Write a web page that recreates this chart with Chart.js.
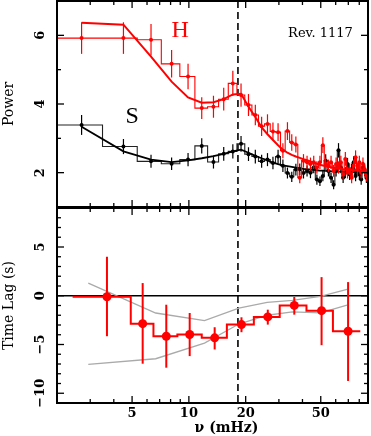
<!DOCTYPE html>
<html>
<head>
<meta charset="utf-8">
<script src="https://cdn.jsdelivr.net/npm/chart.js@4.4.1/dist/chart.umd.min.js"></script>
<style>
  html, body { margin: 0; padding: 0; background: #fff; }
  #wrap { position: relative; width: 371px; height: 436px; }
  canvas { position: absolute; left: 0; }
  #topChart { top: 0; }
  #lagChart { top: 200px; }
</style>
</head>
<body>
<div id="wrap">
  <canvas id="topChart" width="371" height="208"></canvas>
  <canvas id="lagChart" width="371" height="236"></canvas>
</div>
<script>
// --- data (frequencies in mHz) ---
const freq = [2.7, 4.5, 6.3, 8.1, 9.9, 11.7, 13.5, 15.3, 17.1, 18.9, 20.7, 22.5, 24.3, 26.1, 27.9, 29.7,
  31.5, 33.3, 35.1, 36.9, 38.7, 40.5, 42.3, 44.1, 45.9, 47.7, 49.5, 51.3, 53.1, 54.9, 56.7, 58.5,
  60.3, 62.1, 63.9, 65.7, 67.5, 69.3, 71.1, 72.9, 74.7, 76.5, 78.3, 80.1, 81.9, 83.7, 85.5, 87.3];

// hard band (H)
const powerH = [5.92, 5.92, 5.87, 5.17, 4.80, 3.88, 3.92, 4.14, 4.60, 4.26, 3.97, 3.68, 3.35, 3.42, 3.20, 3.18,
  2.64, 3.21, 2.88, 2.82, 1.85, 2.35, 2.30, 2.25, 2.30, 2.15, 2.30, 2.80, 2.25, 2.20, 2.30, 2.05,
  2.25, 2.15, 2.30, 1.95, 2.40, 2.00, 2.10, 1.85, 2.20, 2.45, 2.10, 2.30, 2.00, 2.25, 2.10, 1.90];
const errH = [0.46, 0.46, 0.46, 0.40, 0.37, 0.32, 0.32, 0.33, 0.37, 0.34, 0.32, 0.30, 0.28, 0.28, 0.26, 0.26,
  0.22, 0.26, 0.24, 0.23, 0.16, 0.19, 0.19, 0.19, 0.19, 0.18, 0.19, 0.23, 0.19, 0.18, 0.19, 0.17,
  0.19, 0.18, 0.19, 0.16, 0.20, 0.17, 0.17, 0.16, 0.18, 0.20, 0.17, 0.19, 0.17, 0.19, 0.17, 0.16];
const modelH = [6.37, 6.31, 5.38, 4.65, 4.19, 4.04, 4.05, 4.14, 4.28, 4.30, 3.92, 3.62, 3.32, 3.12, 2.95, 2.80,
  2.67, 2.58, 2.52, 2.47, 2.43, 2.39, 2.36, 2.33, 2.29, 2.26, 2.23, 2.21, 2.19, 2.17, 2.16, 2.14,
  2.13, 2.12, 2.11, 2.10, 2.09, 2.08, 2.08, 2.07, 2.07, 2.06, 2.06, 2.05, 2.05, 2.05, 2.04, 2.04];

// soft band (S)
const powerS = [3.39, 2.76, 2.33, 2.26, 2.38, 2.78, 2.31, 2.55, 2.62, 2.84, 2.54, 2.47, 2.33, 2.38, 2.28, 2.47,
  2.20, 1.99, 1.88, 2.09, 2.10, 1.99, 2.05, 2.00, 2.15, 1.80, 1.75, 1.90, 2.35, 2.05, 1.85, 1.65,
  2.05, 2.65, 2.15, 1.85, 2.00, 2.25, 1.95, 2.10, 2.30, 1.90, 2.10, 1.95, 1.80, 2.15, 2.05, 1.85];
const errS = [0.29, 0.22, 0.19, 0.18, 0.19, 0.22, 0.19, 0.20, 0.21, 0.23, 0.20, 0.20, 0.19, 0.19, 0.18, 0.20,
  0.18, 0.16, 0.15, 0.17, 0.17, 0.16, 0.16, 0.16, 0.17, 0.15, 0.14, 0.15, 0.19, 0.16, 0.15, 0.13,
  0.16, 0.21, 0.17, 0.15, 0.16, 0.18, 0.16, 0.17, 0.18, 0.15, 0.17, 0.16, 0.15, 0.17, 0.16, 0.15];
const modelS = [3.34, 2.62, 2.38, 2.31, 2.36, 2.42, 2.48, 2.55, 2.62, 2.67, 2.58, 2.49, 2.42, 2.36, 2.29, 2.25,
  2.21, 2.19, 2.17, 2.15, 2.13, 2.11, 2.10, 2.09, 2.08, 2.07, 2.06, 2.06, 2.05, 2.05, 2.04, 2.04,
  2.04, 2.03, 2.03, 2.03, 2.03, 2.02, 2.02, 2.02, 2.02, 2.02, 2.02, 2.02, 2.02, 2.02, 2.02, 2.02];

// time lags
const lagEdges = [2.42, 4.92, 6.49, 8.69, 11.7, 15.9, 22.1, 30.3, 42.0, 58.0, 81.0];
const lagFreq = [3.68, 5.69, 7.59, 10.1, 13.7, 19.0, 26.2, 36.2, 50.5, 69.8];
const lagVal = [-0.1, -2.86, -4.15, -3.98, -4.32, -2.96, -2.17, -0.99, -1.53, -3.64];
const lagHi = [4.0, 1.3, -0.92, -1.77, -3.23, -2.21, -1.43, -0.13, 1.91, 1.40];
const lagLo = [-4.15, -6.97, -7.38, -6.19, -5.51, -3.74, -2.96, -1.94, -5.07, -8.74];

// grey envelope
const envFreq = [2.93, 6.67, 12.1, 18.4, 26.0, 35.4, 49.8, 68.9];
const envHi = [1.3, -1.77, -2.55, -1.26, -0.68, -0.48, -0.07, 0.65];
const envLo = [-7.04, -6.46, -4.85, -2.9, -2.0, -1.65, -1.75, -0.95];

// axes
const xTicks = [2, 3, 4, 5, 6, 7, 8, 9, 10, 20, 30, 40, 50, 60, 70, 80];
const xLabels = [5, 10, 20, 50];
const powerLabels = [2, 4, 6];
const lagLabels = [-10, -5, 0, 5];
const qpoFreq = 18.2;
const X_MIN = 2, X_MAX = 89;

const RED = '#ff0000';
const SERIF = '"DejaVu Serif", serif';

function pts(xs, ys) { return xs.map((x, i) => ({ x: x, y: ys[i] })); }
function stepPts(xs, ys) {
  return [{ x: X_MIN, y: ys[0] }].concat(pts(xs, ys), [{ x: X_MAX, y: ys[ys.length - 1] }]);
}
function fmt(v) { return v < 0 ? '\u2212' + Math.abs(v) : String(v); }

// vertical error bars, drawn just under their points
const errorBars = {
  id: 'errorBars',
  beforeDatasetDraw(chart, args) {
    const ds = chart.data.datasets[args.index];
    if (!ds.errLo) return;
    const { ctx, chartArea: a, scales: { x, y } } = chart;
    ctx.save();
    ctx.beginPath();
    ctx.rect(a.left, a.top, a.right - a.left, a.bottom - a.top);
    ctx.clip();
    ctx.strokeStyle = ds.barColor;
    ctx.lineWidth = ds.barWidth;
    ds.data.forEach((p, i) => {
      const px = x.getPixelForValue(p.x);
      ctx.beginPath();
      ctx.moveTo(px, y.getPixelForValue(ds.errLo[i]));
      ctx.lineTo(px, y.getPixelForValue(ds.errHi[i]));
      ctx.stroke();
    });
    ctx.restore();
  }
};

// PGPLOT-like frame: inward ticks on all sides, rotated y labels, annotations
const frame = {
  id: 'frame',
  beforeDatasetsDraw(chart, args, o) {
    const { ctx, chartArea: a, scales: { x, y } } = chart;
    ctx.save();
    if (o.zeroLine) {
      const py = y.getPixelForValue(0);
      ctx.strokeStyle = '#000'; ctx.lineWidth = 1.3;
      ctx.beginPath(); ctx.moveTo(a.left, py); ctx.lineTo(a.right, py); ctx.stroke();
    }
    const qx = x.getPixelForValue(qpoFreq);
    ctx.strokeStyle = '#000'; ctx.lineWidth = 1.6;
    ctx.setLineDash([7, 4]);
    ctx.beginPath(); ctx.moveTo(qx, a.top); ctx.lineTo(qx, a.bottom); ctx.stroke();
    ctx.restore();
  },
  afterDraw(chart, args, o) {
    const { ctx, chartArea: a, scales: { x, y } } = chart;
    ctx.save();
    ctx.strokeStyle = '#000';
    ctx.lineWidth = 1.3;
    const seg = (x1, y1, x2, y2) => { ctx.beginPath(); ctx.moveTo(x1, y1); ctx.lineTo(x2, y2); ctx.stroke(); };

    xTicks.forEach(v => {
      const px = x.getPixelForValue(v);
      const len = xLabels.includes(v) ? 7 : 4;
      seg(px, a.top, px, a.top + len);
      seg(px, a.bottom, px, a.bottom - len);
    });
    for (let v = Math.ceil(y.min); v <= y.max; v++) {
      const py = y.getPixelForValue(v);
      const len = v % o.yMajor === 0 ? 7 : 4;
      seg(a.left, py, a.left + len, py);
      seg(a.right, py, a.right - len, py);
    }
    ctx.lineWidth = 2;
    ctx.strokeRect(a.left, a.top, a.right - a.left, a.bottom - a.top);

    ctx.fillStyle = '#000';
    ctx.textAlign = 'center';
    ctx.textBaseline = 'middle';
    ctx.font = 'bold 13px ' + SERIF;
    o.yLabels.forEach(v => {
      ctx.save();
      ctx.translate(41, y.getPixelForValue(v));
      ctx.rotate(-Math.PI / 2);
      ctx.fillText(fmt(v), 0, 0);
      ctx.restore();
    });

    ctx.save();
    ctx.font = '14px ' + SERIF;
    ctx.translate(9, (a.top + a.bottom) / 2);
    ctx.rotate(-Math.PI / 2);
    ctx.fillText(o.title, 0, 0);
    ctx.restore();

    if (o.xAxisLabels) {
      ctx.font = 'bold 13px ' + SERIF;
      xLabels.forEach(v => ctx.fillText(String(v), x.getPixelForValue(v), a.bottom + 11));
      ctx.font = 'bold 14px ' + SERIF;
      ctx.fillText('\u03BD (mHz)', a.left + (a.right - a.left) * 0.545, a.bottom + 25);
    }

    (o.texts || []).forEach(t => {
      ctx.font = t.font;
      ctx.fillStyle = t.color;
      ctx.fillText(t.text, x.getPixelForValue(t.x), y.getPixelForValue(t.y));
    });
    ctx.restore();
  }
};

Chart.register(errorBars, frame);

const xScale = { type: 'logarithmic', min: X_MIN, max: X_MAX, display: false };

function lineSet(data, color, width, order, extra) {
  return Object.assign({
    data: data, borderColor: color, backgroundColor: color, borderWidth: width,
    pointRadius: 0, tension: 0, fill: false, order: order
  }, extra || {});
}
function pointSet(xs, ys, lo, hi, color, r, barW, order) {
  return {
    data: pts(xs, ys), showLine: false, pointRadius: r, pointBorderWidth: 0,
    backgroundColor: color, borderColor: color, order: order,
    errLo: lo, errHi: hi, barColor: color, barWidth: barW
  };
}

new Chart(document.getElementById('topChart'), {
  type: 'line',
  data: {
    datasets: [
      pointSet(freq, powerH, powerH.map((v, i) => v - errH[i]), powerH.map((v, i) => v + errH[i]), RED, 2, 1.2, 0),
      lineSet(pts(freq, modelH), RED, 2, 1),
      lineSet(stepPts(freq, powerH), RED, 1.1, 2, { stepped: 'middle' }),
      pointSet(freq, powerS, powerS.map((v, i) => v - errS[i]), powerS.map((v, i) => v + errS[i]), '#000', 2, 1.2, 3),
      lineSet(pts(freq, modelS), '#000', 1.8, 4),
      lineSet(stepPts(freq, powerS), '#222', 1.1, 5, { stepped: 'middle' })
    ]
  },
  options: {
    responsive: false, animation: false, devicePixelRatio: 1,
    layout: { autoPadding: false, padding: { left: 57, right: 3, top: 1, bottom: 1 } },
    scales: { x: xScale, y: { type: 'linear', min: 1, max: 7, display: false } },
    plugins: {
      legend: { display: false }, tooltip: { enabled: false },
      frame: {
        yMajor: 2, yLabels: powerLabels, title: 'Power', xAxisLabels: false,
        texts: [
          { text: 'H', x: 9.0, y: 6.14, font: '24px "Liberation Serif", serif', color: RED },
          { text: 'S', x: 5.0, y: 3.62, font: '24px "Liberation Serif", serif', color: '#000' },
          { text: 'Rev. 1117', x: 49.8, y: 6.06, font: '13px ' + SERIF, color: '#000' }
        ]
      }
    }
  }
});

// bin edges -> step points (horizontal over each bin, vertical at the next edge)
const lagStep = pts(lagEdges.slice(0, -1), lagVal).concat([{ x: lagEdges[lagEdges.length - 1], y: lagVal[lagVal.length - 1] }]);

new Chart(document.getElementById('lagChart'), {
  type: 'line',
  data: {
    datasets: [
      pointSet(lagFreq, lagVal, lagLo, lagHi, RED, 4.5, 2, 0),
      lineSet(lagStep, RED, 2, 1, { stepped: 'before' }),
      lineSet(pts(envFreq, envHi), '#aaaaaa', 1.3, 2),
      lineSet(pts(envFreq, envLo), '#aaaaaa', 1.3, 3)
    ]
  },
  options: {
    responsive: false, animation: false, devicePixelRatio: 1,
    layout: { autoPadding: false, padding: { left: 57, right: 3, top: 8, bottom: 33 } },
    scales: { x: xScale, y: { type: 'linear', min: -11, max: 9, display: false } },
    plugins: {
      legend: { display: false }, tooltip: { enabled: false },
      frame: { yMajor: 5, yLabels: lagLabels, title: 'Time Lag (s)', xAxisLabels: true, zeroLine: true }
    }
  }
});
</script>
</body>
</html>
